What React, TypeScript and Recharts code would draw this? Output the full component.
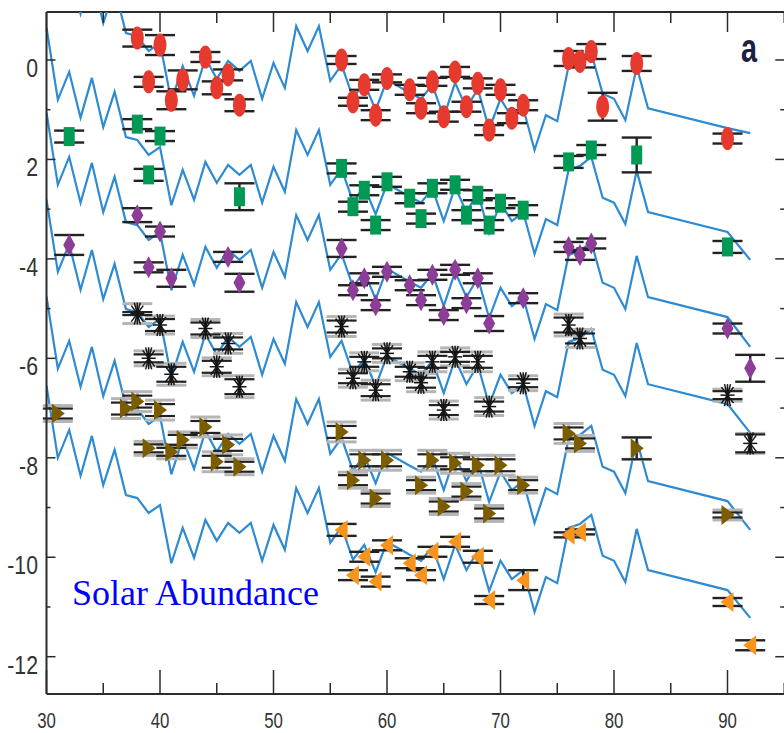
import React from 'react';
import { ComposedChart, Line, Scatter, XAxis, YAxis, ErrorBar, ReferenceLine } from 'recharts';

// scaled solar r-process pattern (top curve), atomic number and log eps
const patternZ = [30, 31, 32, 33, 34, 35, 36, 37, 38, 39, 40, 41, 42, 43, 44, 45, 46, 47, 48, 49, 50, 51, 52, 53, 54, 55, 56, 57, 58, 59, 60, 62, 63, 64, 65, 66, 67, 68, 69, 70, 71, 72, 73, 74, 75, 76, 77, 78, 79, 80, 81, 82, 83, 90];
const patternV = [2.74, 1.29, 1.85, 0.93, 1.73, 0.74, 1.45, 0.54, 0.48, 0.18, 0.34, -0.83, -0.12, -0.72, 0.04, -0.38, -0.02, -0.22, -0.02, -0.78, -0.06, -0.56, 0.68, 0.18, 0.68, -0.42, -0.1, -0.76, -0.46, -1.01, -0.4, -0.66, -0.78, -0.5, -1.15, -0.46, -0.97, -0.58, -1.39, -0.78, -1.15, -0.97, -1.81, -1.11, -1.23, -0.12, -0.04, 0.14, -0.68, -0.78, -1.21, -0.14, -0.97, -1.37];
// shift of each curve and its uranium end point
const curveOffsets = [0, -2.09, -3.8, -5.55, -7.5, -9.29];
const curveU = [-1.47, -4.02, -5.77, -7.5, -9.45, -11.22];

// stars
const redZ = [38, 39, 40, 41, 42, 44, 45, 46, 47, 56, 57, 58, 59, 60, 62, 63, 64, 65, 66, 67, 68, 69, 70, 71, 72, 76, 77, 78, 79, 82, 90];
const redV = [0.44, -0.44, 0.3, -0.81, -0.4, 0.06, -0.56, -0.3, -0.91, 0.0, -0.84, -0.5, -1.11, -0.37, -0.6, -0.97, -0.44, -1.14, -0.24, -0.94, -0.47, -1.41, -0.6, -1.17, -0.91, 0.03, -0.03, 0.17, -0.94, -0.07, -1.58];
const redErr = [0.17, 0.1, 0.2, 0.18, 0.19, 0.1, 0.13, 0.11, 0.12, 0.08, 0.08, 0.1, 0.1, 0.08, 0.1, 0.1, 0.08, 0.1, 0.1, 0.1, 0.1, 0.1, 0.1, 0.1, 0.1, 0.15, 0.12, 0.15, 0.28, 0.15, 0.1];

const greenZ = [32, 38, 39, 40, 47, 56, 57, 58, 59, 60, 62, 63, 64, 66, 67, 68, 69, 70, 72, 76, 78, 82, 90];
const greenV = [-1.54, -1.29, -2.31, -1.53, -2.75, -2.18, -2.95, -2.62, -3.32, -2.45, -2.78, -3.19, -2.58, -2.51, -3.12, -2.72, -3.32, -2.88, -3.02, -2.05, -1.81, -1.91, -3.76];
const greenErr = [0.12, 0.1, 0.12, 0.1, 0.27, 0.1, 0.1, 0.1, 0.1, 0.1, 0.1, 0.1, 0.1, 0.1, 0.1, 0.1, 0.1, 0.1, 0.1, 0.12, 0.1, 0.35, 0.12];

const purpleZ = [32, 38, 39, 40, 41, 46, 47, 56, 57, 58, 59, 60, 62, 63, 64, 65, 66, 67, 68, 69, 72, 76, 77, 78, 90, 92];
const purpleV = [-3.72, -3.12, -4.17, -3.45, -4.39, -3.96, -4.48, -3.79, -4.63, -4.39, -4.93, -4.26, -4.53, -4.83, -4.32, -5.13, -4.22, -4.89, -4.39, -5.3, -4.79, -3.76, -3.92, -3.69, -5.4, -6.2];
const purpleErr = [0.2, 0.14, 0.1, 0.1, 0.17, 0.1, 0.18, 0.17, 0.1, 0.1, 0.1, 0.1, 0.1, 0.1, 0.1, 0.1, 0.1, 0.1, 0.1, 0.15, 0.1, 0.1, 0.1, 0.1, 0.1, 0.27];

const blackZ = [38, 39, 40, 41, 44, 45, 46, 47, 56, 57, 58, 59, 60, 62, 63, 64, 65, 66, 68, 69, 72, 76, 77, 90, 92];
const blackV = [-5.1, -6.0, -5.33, -6.32, -5.4, -6.17, -5.7, -6.57, -5.36, -6.4, -6.07, -6.64, -5.9, -6.27, -6.49, -6.07, -7.04, -5.97, -6.07, -6.97, -6.5, -5.33, -5.6, -6.74, -7.71];
const blackErr = [0.03, 0.08, 0.12, 0.15, 0.12, 0.12, 0.12, 0.15, 0.12, 0.1, 0.1, 0.12, 0.1, 0.1, 0.1, 0.12, 0.1, 0.1, 0.12, 0.1, 0.08, 0.15, 0.1, 0.08, 0.18];
const blackSysErr = [0.2, 0.15, 0.18, 0.22, 0.18, 0.18, 0.2, 0.22, 0.2, 0.18, 0.18, 0.2, 0.18, 0.18, 0.18, 0.2, 0.18, 0.18, 0.2, 0.18, 0.15, 0.22, 0.18, 0.12, 0.2];

const oliveZ = [31, 37, 38, 39, 40, 41, 42, 44, 45, 46, 47, 56, 57, 58, 59, 60, 63, 64, 65, 66, 67, 68, 69, 70, 72, 76, 77, 82, 90];
const oliveV = [-7.11, -7.01, -6.87, -7.81, -7.04, -7.88, -7.64, -7.38, -8.08, -7.74, -8.18, -7.48, -8.45, -8.05, -8.82, -8.05, -8.55, -8.05, -8.98, -8.11, -8.68, -8.15, -9.12, -8.15, -8.55, -7.51, -7.71, -7.81, -9.15];
const oliveErr = [0.1, 0.12, 0.12, 0.08, 0.12, 0.08, 0.1, 0.12, 0.12, 0.12, 0.1, 0.12, 0.1, 0.12, 0.1, 0.12, 0.1, 0.12, 0.1, 0.12, 0.1, 0.12, 0.1, 0.12, 0.1, 0.12, 0.1, 0.22, 0.05];
const oliveSysErr = [0.16, 0.2, 0.2, 0.14, 0.2, 0.14, 0.16, 0.2, 0.2, 0.2, 0.16, 0.2, 0.16, 0.2, 0.16, 0.2, 0.16, 0.2, 0.16, 0.2, 0.16, 0.2, 0.16, 0.2, 0.16, 0.2, 0.16, 0.22, 0.1];

const orangeZ = [56, 57, 58, 59, 60, 62, 63, 64, 66, 68, 69, 72, 76, 77, 90, 92];
const orangeV = [-9.45, -10.36, -9.99, -10.49, -9.76, -10.12, -10.36, -9.89, -9.69, -9.99, -10.86, -10.46, -9.55, -9.49, -10.9, -11.77];
const orangeErr = [0.12, 0.1, 0.1, 0.1, 0.1, 0.1, 0.1, 0.1, 0.1, 0.12, 0.08, 0.2, 0.05, 0.05, 0.08, 0.1];

// axes
const xTicks = [30, 35, 40, 45, 50, 55, 60, 65, 70, 75, 80, 85, 90, 95];
const xLabelTicks = [30, 40, 50, 60, 70, 80, 90];
const yTicks = [-12, -11, -10, -9, -8, -7, -6, -5, -4, -3, -2, -1, 0];
const yLabelTicks = [-12, -10, -8, -6, -4, -2, 0];
const yTickLabels = ['-12', '-10', '-8', '-6', '-4', '2', '0'];

const X_MIN = 30;
const X_MAX = 95;
const Y_MIN = -12.75;
const Y_MAX = 0.965;

const W = 790;
const H = 733;
const Y_AXIS_W = 40;
const X_AXIS_H = 30;
// plot area: left 46.5, top 12, right 784.25, bottom 694
const MARGIN = { top: 12, right: 5.75, bottom: 39 - X_AXIS_H, left: 46.5 - Y_AXIS_W };
const PLOT_TOP = MARGIN.top;
const PLOT_RIGHT = W - MARGIN.right;

const BLUE = '#2e8bd2';
const RED = '#e63a2e';
const GREEN = '#009a55';
const PURPLE = '#8c3d98';
const OLIVE = '#7b5d00';
const ORANGE = '#f7941d';
const AXIS = '#2b2b2b';
const TICK_FONT = "'Liberation Sans Narrow', 'Arial Narrow', 'Liberation Sans', Arial, sans-serif";

const curves = curveOffsets.map((off, k) => [
  ...patternZ.map((z, i) => ({ z, v: +(patternV[i] + off).toFixed(2) })),
  { z: 92, v: curveU[k] },
]);

const toPoints = (zs: number[], vs: number[], es: number[], gs?: number[]) =>
  zs.map((z, i) => ({ z, v: vs[i], e: es[i], g: gs ? gs[i] : 0 }));

const redData = toPoints(redZ, redV, redErr);
const greenData = toPoints(greenZ, greenV, greenErr);
const purpleData = toPoints(purpleZ, purpleV, purpleErr);
const blackData = toPoints(blackZ, blackV, blackErr, blackSysErr);
const oliveData = toPoints(oliveZ, oliveV, oliveErr, oliveSysErr);
const orangeData = toPoints(orangeZ, orangeV, orangeErr);

const redMark = (p: any) => <ellipse cx={p.cx} cy={p.cy} rx={6.5} ry={11.5} fill={RED} />;
const greenMark = (p: any) => <rect x={p.cx - 5.5} y={p.cy - 9.5} width={11} height={19} fill={GREEN} />;
const purpleMark = (p: any) => (
  <polygon points={`${p.cx},${p.cy - 11} ${p.cx + 6},${p.cy} ${p.cx},${p.cy + 11} ${p.cx - 6},${p.cy}`} fill={PURPLE} />
);
const oliveMark = (p: any) => (
  <polygon points={`${p.cx - 6},${p.cy - 10} ${p.cx + 7},${p.cy} ${p.cx - 6},${p.cy + 10}`} fill={OLIVE} />
);
const orangeMark = (p: any) => (
  <polygon points={`${p.cx + 6},${p.cy - 10} ${p.cx - 7},${p.cy} ${p.cx + 6},${p.cy + 10}`} fill={ORANGE} />
);
const starMark = (p: any) => {
  const { cx, cy } = p;
  const spokes = [
    [0, 11],
    [7, 0],
    [6, 8],
    [-6, 8],
    [3, 11],
    [-3, 11],
  ];
  return (
    <g stroke="#151515" strokeWidth={1.5}>
      {spokes.map(([dx, dy], i) => (
        <line key={i} x1={cx - dx} y1={cy - dy} x2={cx + dx} y2={cy + dy} />
      ))}
    </g>
  );
};

function XTick(props: any) {
  const { x, y, payload } = props;
  const v = payload.value;
  const major = v % 10 === 0;
  return (
    <g>
      <line x1={x} x2={x} y1={y} y2={y - (major ? 24 : 11)} stroke={AXIS} strokeWidth={1.5} />
      <line x1={x} x2={x} y1={PLOT_TOP} y2={PLOT_TOP + (major ? 20 : 11)} stroke={AXIS} strokeWidth={1.5} />
      {xLabelTicks.includes(v) && (
        <text
          transform={`translate(${x},${y + 26}) scale(0.8,1.05)`}
          textAnchor="middle"
          dominantBaseline="central"
          fontFamily={TICK_FONT}
          fontSize={21}
          fill="#333"
        >
          {v}
        </text>
      )}
    </g>
  );
}

function YTick(props: any) {
  const { x, y, payload } = props;
  const idx = yLabelTicks.indexOf(payload.value);
  const len = idx >= 0 ? 9 : 4;
  return (
    <g>
      <line x1={x} x2={x + len} y1={y} y2={y} stroke={AXIS} strokeWidth={1.5} />
      <line x1={PLOT_RIGHT} x2={PLOT_RIGHT - len} y1={y} y2={y} stroke={AXIS} strokeWidth={1.5} />
      {idx >= 0 && (
        <text
          transform={`translate(${x - 8.5},${y + 7.5}) scale(0.85,1.05)`}
          textAnchor="end"
          dominantBaseline="central"
          fontFamily={TICK_FONT}
          fontSize={25}
          fill="#333"
        >
          {yTickLabels[idx]}
        </text>
      )}
    </g>
  );
}

export default function App() {
  return (
    <div style={{ position: 'fixed', left: 0, top: 0, width: 784, height: 733, overflow: 'hidden', background: '#fff' }}>
      <ComposedChart width={W} height={H} margin={MARGIN}>
        <XAxis
          dataKey="z"
          type="number"
          domain={[X_MIN, X_MAX]}
          ticks={xTicks}
          interval={0}
          allowDataOverflow
          height={X_AXIS_H}
          tickSize={0}
          tickMargin={0}
          tickLine={false}
          tick={<XTick />}
          axisLine={{ stroke: AXIS, strokeWidth: 2 }}
        />
        <YAxis
          dataKey="v"
          type="number"
          domain={[Y_MIN, Y_MAX]}
          ticks={yTicks}
          interval={0}
          allowDataOverflow
          width={Y_AXIS_W}
          tickSize={0}
          tickMargin={0}
          tickLine={false}
          tick={<YTick />}
          axisLine={{ stroke: AXIS, strokeWidth: 2 }}
        />
        <ReferenceLine y={Y_MAX} stroke={AXIS} strokeWidth={2} />
        {curves.map((data, k) => (
          <Line
            key={k}
            data={data}
            dataKey="v"
            type="linear"
            stroke={BLUE}
            strokeWidth={2.2}
            dot={false}
            activeDot={false}
            isAnimationActive={false}
          />
        ))}
        <Scatter data={redData} shape={redMark} isAnimationActive={false}>
          <ErrorBar dataKey="e" direction="y" width={15} stroke="#222" strokeWidth={2.4} isAnimationActive={false} />
        </Scatter>
        <Scatter data={greenData} shape={greenMark} isAnimationActive={false}>
          <ErrorBar dataKey="e" direction="y" width={15} stroke="#222" strokeWidth={2.4} isAnimationActive={false} />
        </Scatter>
        <Scatter data={purpleData} shape={purpleMark} isAnimationActive={false}>
          <ErrorBar dataKey="e" direction="y" width={15} stroke="#222" strokeWidth={2.4} isAnimationActive={false} />
        </Scatter>
        <Scatter data={blackData} shape={starMark} isAnimationActive={false}>
          <ErrorBar dataKey="g" direction="y" width={15} stroke="#b5b5b5" strokeWidth={3} isAnimationActive={false} />
          <ErrorBar dataKey="e" direction="y" width={15} stroke="#222" strokeWidth={2.2} isAnimationActive={false} />
        </Scatter>
        <Scatter data={oliveData} shape={oliveMark} isAnimationActive={false}>
          <ErrorBar dataKey="g" direction="y" width={15} stroke="#b5b5b5" strokeWidth={3} isAnimationActive={false} />
          <ErrorBar dataKey="e" direction="y" width={15} stroke="#222" strokeWidth={2.2} isAnimationActive={false} />
        </Scatter>
        <Scatter data={orangeData} shape={orangeMark} isAnimationActive={false}>
          <ErrorBar dataKey="e" direction="y" width={15} stroke="#222" strokeWidth={2.4} isAnimationActive={false} />
        </Scatter>
      </ComposedChart>
      <svg width={784} height={733} style={{ position: 'absolute', left: 0, top: 0, pointerEvents: 'none' }}>
        <text x={72} y={605} fontFamily="'Liberation Serif', 'Times New Roman', serif" fontSize={36} fill="#0000ff">
          Solar Abundance
        </text>
        <text
          transform="translate(749,62) scale(0.72,1)"
          textAnchor="middle"
          fontFamily={TICK_FONT}
          fontWeight="bold"
          fontSize={40}
          fill="#1c2142"
        >
          a
        </text>
      </svg>
    </div>
  );
}
